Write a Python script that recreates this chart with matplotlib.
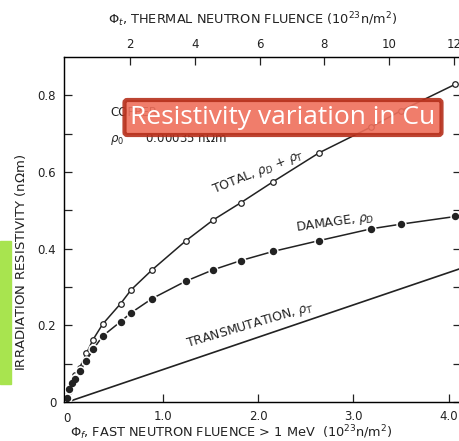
import matplotlib
matplotlib.use("Agg")
import matplotlib.pyplot as plt
from matplotlib.patches import Rectangle, FancyBboxPatch

# fast neutron fluence (1e23 n/m^2) for the measured points
fluence = [0.0, 0.02, 0.05, 0.085, 0.13, 0.2, 0.27, 0.37, 0.56, 0.67,
           0.89, 1.24, 1.53, 1.82, 2.16, 2.64, 3.19, 3.5, 4.07]
rho_total = [0.005, 0.03, 0.05, 0.07, 0.09, 0.127, 0.163, 0.203, 0.257, 0.293,
             0.345, 0.42, 0.475, 0.52, 0.575, 0.65, 0.718, 0.76, 0.829]
rho_damage = [0.01, 0.035, 0.05, 0.06, 0.081, 0.108, 0.137, 0.172, 0.21, 0.233,
              0.27, 0.315, 0.345, 0.369, 0.393, 0.421, 0.452, 0.464, 0.484]
trans_x = [0.0, 4.11]
trans_y = [0.0, 0.347]

bottom_ticks = [1.0, 2.0, 3.0, 4.0]
bottom_labels = ["1.0", "2.0", "3.0", "4.0"]
top_ticks = [2, 4, 6, 8, 10, 12]
y_ticks = [0, 0.1, 0.2, 0.3, 0.4, 0.5, 0.6, 0.7, 0.8]

title = "Resistivity variation in Cu"
ink = "#222222"

fig = plt.figure(figsize=(4.59, 4.41), dpi=100)
ax = fig.add_axes([0.1405, 0.0884, 0.864, 0.7823])

ax.plot(trans_x, trans_y, color=ink, lw=1.2)
ax.plot(fluence, rho_total, color=ink, lw=1.1, zorder=2)
ax.plot(fluence, rho_total, ls="none", marker="o", ms=4.0,
        mfc="white", mec=ink, mew=0.9, zorder=3)
ax.plot(fluence, rho_damage, color=ink, lw=1.1, zorder=2)
ax.plot(fluence, rho_damage, ls="none", marker="o", ms=6.5,
        mfc="white", mec="white", zorder=3)
ax.plot(fluence, rho_damage, ls="none", marker="o", ms=4.3,
        mfc=ink, mec=ink, zorder=4)

ax.set_xlim(-0.03, 4.13)
ax.set_ylim(0, 0.9)
ax.set_xticks(bottom_ticks)
ax.set_xticklabels(bottom_labels)
ax.set_yticks(y_ticks)
ax.set_yticklabels(["0", "", "0.2", "", "0.4", "", "0.6", "", "0.8"])
ax.tick_params(direction="in", length=6, width=0.9, labelsize=8.5,
               colors=ink, right=True, pad=6)
ax.text(0.0, -0.025, "0", ha="center", va="top", fontsize=8.5, color=ink)
for s in ax.spines.values():
    s.set_linewidth(1.0)
    s.set_color(ink)

# thermal fluence on top axis
top = ax.twiny()
top.set_xlim(-0.02, 12.22)
top.set_xticks(top_ticks)
top.tick_params(direction="in", length=6, width=0.9, labelsize=8.5,
                colors=ink, pad=4)

# axis titles, placed as in the scanned original
fig.text(231 / 459, 1 - 433 / 441,
         r"$\Phi_f$, FAST NEUTRON FLUENCE > 1 MeV  (10$^{23}$n/m$^2$)",
         fontsize=9.3, color=ink, ha="center", va="center")
fig.text(253 / 459, 1 - 20 / 441,
         r"$\Phi_t$, THERMAL NEUTRON FLUENCE (10$^{23}$n/m$^2$)",
         fontsize=9.3, color=ink, ha="center", va="center")
fig.text(21 / 459, 1 - 262 / 441, r"IRRADIATION RESISTIVITY (n$\Omega$m)",
         fontsize=9.5, color=ink, ha="center", va="center", rotation=90)

# annotations
ax.text(0.45, 0.755, "COPPER", fontsize=8.5, color=ink, va="center")
ax.text(0.45, 0.685, r"$\rho_0$      0.00035 n$\Omega$m", fontsize=8.5,
        color=ink, va="center")
ax.text(2.0, 0.6, r"TOTAL, $\rho_D$ + $\rho_T$", fontsize=9, color=ink,
        rotation=22, ha="center", va="center")
ax.text(2.81, 0.468, r"DAMAGE, $\rho_D$", fontsize=9, color=ink,
        rotation=8, ha="center", va="center")
ax.text(1.92, 0.2, r"TRANSMUTATION, $\rho_T$", fontsize=9, color=ink,
        rotation=16.5, ha="center", va="center")

# green side bar
fig.patches.append(Rectangle((0, 1 - 384 / 441), 11 / 459, 143 / 441,
                             transform=fig.transFigure, color="#a8e44f",
                             zorder=5))
# title box
fig.patches.append(FancyBboxPatch((124.5 / 459, 1 - 135 / 441), 317 / 459,
                                  35 / 441,
                                  boxstyle="round,pad=0,rounding_size=0.006",
                                  transform=fig.transFigure, fc="#ef6f5b",
                                  alpha=0.9, ec="#b5301c", lw=3, zorder=5))
fig.text(283 / 459, 1 - 118 / 441, title, family="Open Sans", fontsize=19,
         color="white", ha="center", va="center", zorder=6)

fig.savefig("out.png", dpi=100)
